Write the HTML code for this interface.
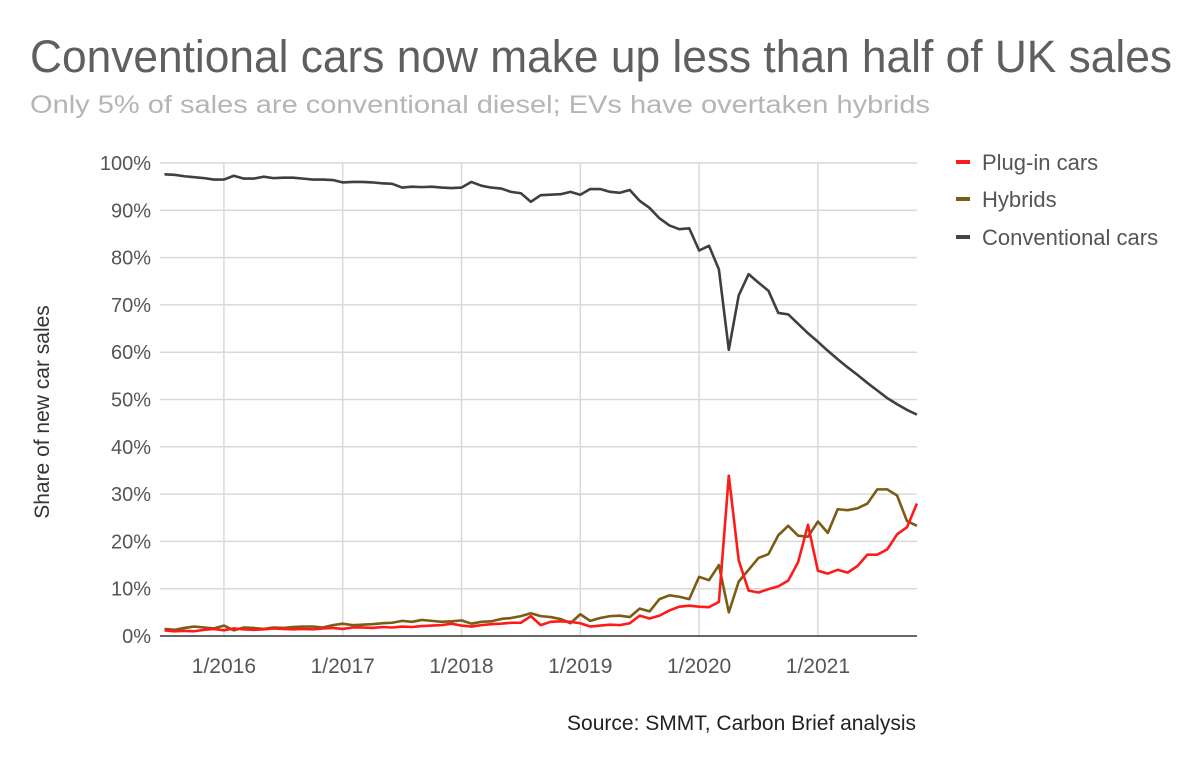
<!DOCTYPE html>
<html><head><meta charset="utf-8"><style>
html,body{margin:0;padding:0;background:#fff;}
svg{display:block;font-family:"Liberation Sans",sans-serif;}
</style></head><body>
<svg id="chart" width="1200" height="762" viewBox="0 0 1200 762">
<text x="30" y="72" font-size="45" fill="#5f5f5f" textLength="1142" lengthAdjust="spacingAndGlyphs">Conventional cars now make up less than half of UK sales</text>
<text x="30" y="113" font-size="25" fill="#b5b5b5" textLength="900" lengthAdjust="spacingAndGlyphs">Only 5% of sales are conventional diesel; EVs have overtaken hybrids</text>
<g id="grid"></g>
<g id="yticks"></g>
<g id="xticks"></g>
<text transform="translate(49,412) rotate(-90)" text-anchor="middle" font-size="21" fill="#333">Share of new car sales</text>
<g id="series"></g>
<g>
<g><rect x="956" y="160" width="14" height="4" fill="#ff1a1a"/><text x="982" y="170" font-size="22" fill="#555">Plug-in cars</text></g>
<g><rect x="956" y="197" width="14" height="4" fill="#7a5c14"/><text x="982" y="207" font-size="22" fill="#555">Hybrids</text></g>
<g><rect x="956" y="235" width="14" height="4" fill="#444"/><text x="982" y="245" font-size="22" fill="#555">Conventional cars</text></g>
</g>
<text x="916" y="730" text-anchor="end" font-size="21" fill="#222">Source: SMMT, Carbon Brief analysis</text>
</svg>
<script>
const yTicks = [0,10,20,30,40,50,60,70,80,90,100];
const xTickLabels = ["1/2016","1/2017","1/2018","1/2019","1/2020","1/2021"];
const xTickIndex = [6,18,30,42,54,66];
const conventional = [97.6,97.5,97.2,97.0,96.8,96.5,
96.5,97.3,96.7,96.7,97.1,96.8,96.9,96.9,96.7,96.5,96.5,96.4,
95.9,96.0,96.0,95.9,95.7,95.6,94.8,95.0,94.9,95.0,94.8,94.7,
94.8,96.0,95.2,94.8,94.6,93.9,93.6,91.8,93.2,93.3,93.4,93.9,
93.3,94.5,94.5,93.9,93.7,94.3,92.0,90.5,88.3,86.8,86.0,86.2,
81.5,82.5,77.5,60.5,72.0,76.5,74.7,73.0,68.3,68.0,66.0,64.0,
62.2,60.3,58.5,56.8,55.2,53.5,51.9,50.3,49.0,47.8,46.8];
const plugin = [1.2,1.0,1.1,1.0,1.3,1.5,
1.2,1.6,1.4,1.3,1.4,1.6,1.5,1.4,1.5,1.4,1.6,1.7,
1.5,1.8,1.8,1.7,1.9,1.8,2.0,1.9,2.1,2.2,2.3,2.6,
2.2,2.0,2.3,2.5,2.6,2.8,2.8,4.2,2.3,3.0,3.1,3.0,
2.7,2.0,2.2,2.4,2.3,2.7,4.3,3.7,4.3,5.4,6.2,6.4,
6.2,6.1,7.2,33.9,16.0,9.6,9.2,9.9,10.5,11.7,15.6,23.5,
13.8,13.2,14.0,13.4,14.8,17.2,17.2,18.3,21.5,23.0,28.0];
const hybrids = [1.5,1.3,1.7,2.0,1.8,1.6,
2.2,1.2,1.8,1.7,1.5,1.8,1.7,1.9,2.0,2.0,1.8,2.3,
2.6,2.3,2.4,2.5,2.7,2.8,3.2,3.0,3.4,3.2,3.0,3.1,
3.3,2.6,3.0,3.1,3.6,3.8,4.2,4.8,4.2,4.0,3.6,2.7,
4.6,3.2,3.8,4.2,4.3,4.0,5.8,5.2,7.8,8.6,8.3,7.8,
12.5,11.8,15.0,5.0,11.5,14.0,16.5,17.3,21.3,23.3,21.2,21.0,
24.2,21.8,26.8,26.6,27.0,28.0,31.0,31.0,29.7,24.3,23.3];

const NS="http://www.w3.org/2000/svg";
const X0=164.5, DX=9.9, Y0=636, Y100=163, XL=160;
const xs=i=>X0+i*DX;
const ys=v=>Y0-(v/100)*(Y0-Y100);
function mk(tag,attrs,parent){const e=document.createElementNS(NS,tag);for(const k in attrs)e.setAttribute(k,attrs[k]);parent.appendChild(e);return e;}
const grid=document.getElementById('grid'),yt=document.getElementById('yticks'),xt=document.getElementById('xticks'),ser=document.getElementById('series');
const XR=xs(conventional.length-1);
yTicks.forEach(v=>{
  if(v>0){const l=mk('line',{x1:XL,x2:XR,y1:ys(v),y2:ys(v),stroke:'#d9d9d9','stroke-width':1.5},grid);
  
  }
  const t=mk('text',{x:151,y:ys(v)+7,'text-anchor':'end','font-size':20,fill:'#555'},yt);
  t.textContent=v+'%';
  
  
});
xTickIndex.forEach((idx,k)=>{
  const l=mk('line',{x1:xs(idx),x2:xs(idx),y1:Y100,y2:Y0,stroke:'#d9d9d9','stroke-width':1.5},grid);
  
  
  const t=mk('text',{x:xs(idx),y:673,'text-anchor':'middle','font-size':21,fill:'#555'},xt);
  t.textContent=xTickLabels[k];
  
  
});
const base=mk('line',{x1:XL,x2:XR,y1:Y0,y2:Y0,stroke:'#333','stroke-width':1.5},grid);


function line(data,color,name){
  const p=mk('polyline',{points:data.map((v,i)=>xs(i)+','+ys(v)).join(' '),fill:'none',stroke:color,'stroke-width':2.6,'stroke-linejoin':'round'},ser);
  
  
}
line(conventional,'#3f3f3f','conventional-cars-line');
line(hybrids,'#7a5c14','hybrids-line');
line(plugin,'#ff1a1a','plug-in-cars-line');
</script>
</body></html>
